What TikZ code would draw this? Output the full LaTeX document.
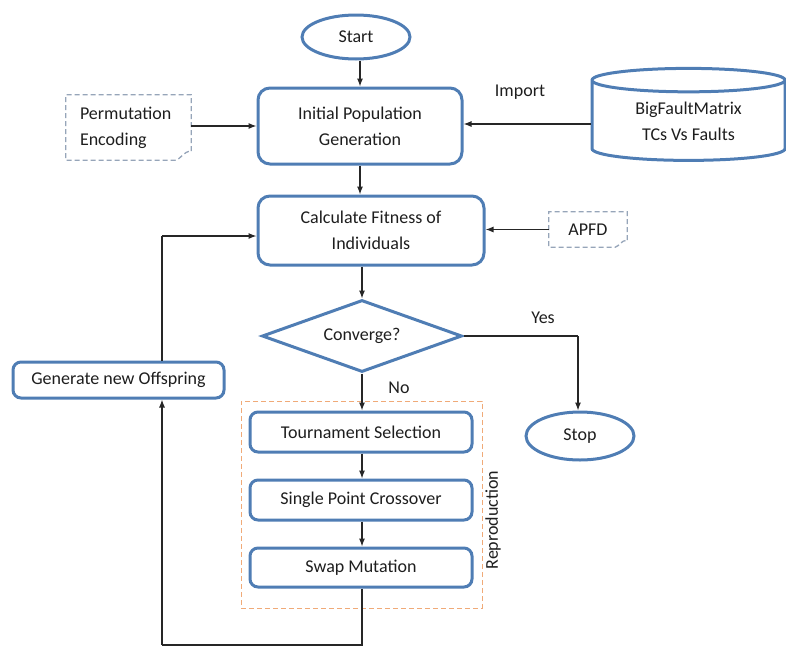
\documentclass[tikz,border=0pt]{standalone}
\usepackage{fontspec}
\setmainfont{Carlito}
\usetikzlibrary{arrows.meta,shapes.geometric,calc}
\definecolor{boxblue}{RGB}{79,125,180}
\definecolor{notegray}{RGB}{150,165,185}
\definecolor{reporange}{RGB}{240,170,120}
\definecolor{txt}{RGB}{30,30,30}
\tikzset{
  base/.style={font=\fontsize{18}{26}\selectfont, text=txt, align=center},
  proc/.style={base, draw=boxblue, line width=3pt, rounded corners=12pt, fill=white},
  smallproc/.style={base, draw=boxblue, line width=3pt, rounded corners=8pt, fill=white},
  term/.style={base, draw=boxblue, line width=3pt, ellipse, inner sep=0pt},
  decision/.style={base, draw=boxblue, line width=3pt, diamond, inner sep=0pt, aspect=2.78},
  store/.style={base, draw=boxblue, line width=3pt, cylinder, shape border rotate=90, aspect=0.22, inner sep=0pt},
  notebox/.style={base, draw=none, inner sep=0pt},
  noteline/.style={draw=notegray, line width=1.3pt, dash pattern=on 5pt off 3pt},
  arr/.style={draw=black!85, line width=1.1pt, -{Latex[length=8pt,width=6pt]}},
  ln/.style={draw=black!85, line width=1.1pt},
  lbl/.style={base, inner sep=0pt},
}
\begin{document}
\begin{tikzpicture}[x=1pt,y=-1pt]
\useasboundingbox (0,0) rectangle (786,648);
% nodes
\node[term, minimum width=108, minimum height=44] (start) at (356,37) {Start};
\node[proc, minimum width=204, minimum height=76] (init) at (360,126) {Initial Population\\Generation};
\node[notebox, minimum width=125, minimum height=65, text width=97, align=left] (perm) at (128.5,127.5) {Permutation\\Encoding};
\node[store, minimum width=193, minimum height=92] (bfm) at (688.5,121) {BigFaultMatrix\\TCs Vs Faults};
\node[proc, minimum width=226, minimum height=69] (calc) at (371,230.5) {Calculate Fitness of\\Individuals};
\node[notebox, minimum width=78, minimum height=35] (apfd) at (588,229.5) {APFD};
\node[decision, minimum width=200, minimum height=72] (dia) at (362,336) {Converge?};
\node[term, minimum width=108, minimum height=48] (stop) at (580,436) {Stop};
\node[smallproc, minimum width=211, minimum height=36] (gen) at (118.5,380) {Generate new Offspring};
\node[draw=reporange, line width=1pt, dash pattern=on 5pt off 3pt, minimum width=241, minimum height=207, inner sep=0pt] (rep) at (361.5,504.5) {};
\node[lbl, rotate=90] (replbl) at (493,520) {Reproduction};
\node[smallproc, minimum width=222, minimum height=40] (tour) at (361,432) {Tournament Selection};
\node[smallproc, minimum width=222, minimum height=40] (cross) at (361,500) {Single Point Crossover};
\node[smallproc, minimum width=222, minimum height=39] (swap) at (361,567.5) {Swap Mutation};
% note outlines with folded corner
\draw[noteline] ($(perm.south east)+(0,-9)$) -- (perm.north east) -- (perm.north west) -- (perm.south west) -- ($(perm.south east)+(-16,0)$)
  .. controls ($(perm.south east)+(-10,-1)$) and ($(perm.south east)+(-8,-9)$) .. ($(perm.south east)+(0,-9)$);
\draw[noteline] ($(apfd.south east)+(0,-7)$) -- (apfd.north east) -- (apfd.north west) -- (apfd.south west) -- ($(apfd.south east)+(-12,0)$)
  .. controls ($(apfd.south east)+(-8,-1)$) and ($(apfd.south east)+(-6,-7)$) .. ($(apfd.south east)+(0,-7)$);
% labels
\node[lbl] (imp) at (520,92) {Import};
\node[lbl] (yes) at (543,318) {Yes};
\node[lbl] (no) at (399,388) {No};
% coordinates
\coordinate (ycorner) at (578,336);
\coordinate (b1) at (362,645);
\coordinate (b2) at (162,645);
\coordinate (u1) at (162,236);
% connectors
\draw[arr] (start.south -| init.north) -- (init.north);
\draw[arr] (perm.east |- init.west) -- (init.west);
\draw[arr] (bfm.west |- 0,124) -- (init.east |- 0,124);
\draw[arr] (init.south) -- (calc.north -| init.south);
\draw[arr] (apfd.west) -- (calc.east |- apfd.west);
\draw[arr] (calc.south -| dia.north) -- (dia.north);
\draw[ln] (dia.east) -- (ycorner);
\draw[arr] (ycorner) -- (stop.north -| ycorner);
\draw[arr] (dia.south) -- (tour.north -| dia.south);
\draw[arr] (tour.south -| dia.south) -- (cross.north -| dia.south);
\draw[arr] (cross.south -| dia.south) -- (swap.north -| dia.south);
\draw[ln] (swap.south -| b1) -- (b1) -- (b2);
\draw[arr] (b2) -- (gen.south -| b2);
\draw[ln] (gen.north -| u1) -- (u1);
\draw[arr] (u1) -- (calc.west |- u1);
\end{tikzpicture}
\end{document}
